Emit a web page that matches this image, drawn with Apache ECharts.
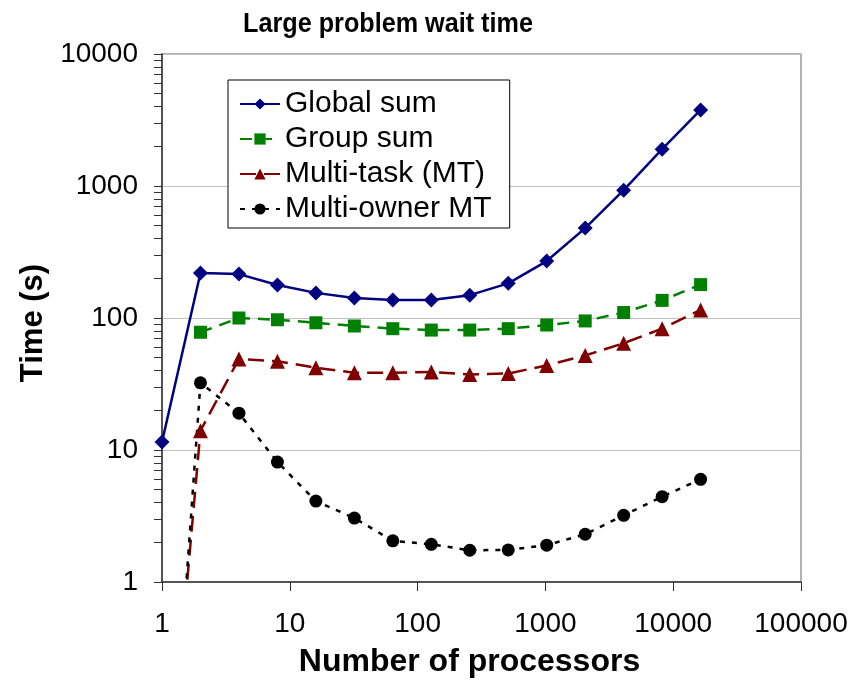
<!DOCTYPE html>
<html>
<head>
<meta charset="utf-8">
<script src="https://cdn.jsdelivr.net/npm/echarts@6/dist/echarts.min.js"></script>
<style>html,body{margin:0;padding:0;background:#fff}#c{width:856px;height:685px}</style>
</head>
<body>
<div id="c"></div>
<script>
const processors = [1, 2, 4, 8, 16, 32, 64, 128, 256, 512, 1024, 2048, 4096, 8192, 16384];
const globalSum = [11.5, 219, 215, 178, 155, 142, 137, 137, 149, 183, 270, 480, 930, 1900, 3770];
const groupSum = [null, 78, 100, 97, 92, 87, 83, 81, 81, 83, 88.5, 95, 110, 136, 179];
const multiTask = [0.007, 14, 49, 47, 42, 38.5, 38.5, 39, 37.4, 38, 43.7, 52, 64.5, 83, 115];
const multiOwner = [0.0025, 32.3, 19, 8.1, 4.1, 3.05, 2.05, 1.93, 1.74, 1.75, 1.9, 2.3, 3.2, 4.43, 6.0];
const seriesNames = ['Global sum', 'Group sum', 'Multi-task (MT)', 'Multi-owner MT'];
const xTicks = ['1', '10', '100', '1000', '10000', '100000'];
const yTicks = ['1', '10', '100', '1000', '10000'];
const chartTitle = 'Large problem wait time';

const pairs = arr => processors.map((p, i) => arr[i] == null ? null : [p, arr[i]]).filter(d => d);
// tick positions on log y axis: every integer multiple within each decade
const yTickValues = [];
yTicks.forEach((t, i) => {
  const base = Number(t);
  if (i < yTicks.length - 1) { for (let m = 1; m <= 9; m++) yTickValues.push(base * m); }
  else yTickValues.push(base);
});
const FONT = 'Liberation Sans, Arial, sans-serif';

const chart = echarts.init(document.getElementById('c'));
chart.setOption({
  animation: false,
  backgroundColor: '#fff',
  graphic: [{
    type: 'text', x: 388, y: 10, scaleX: 0.9,
    style: { text: chartTitle, font: 'bold 28px Liberation Sans, Arial', fill: '#000', textAlign: 'center', textVerticalAlign: 'top' }
  }],
  legend: {
    orient: 'vertical',
    left: 228, top: 80,
    itemWidth: 40, itemHeight: 14, itemGap: 5,
    padding: [9, 18, 4, 11],
    backgroundColor: '#fff', borderColor: '#000', borderWidth: 1,
    textStyle: { fontFamily: FONT, fontSize: 30, color: '#000' },
    data: seriesNames
  },
  grid: { left: 162, right: 55, top: 54, bottom: 103, show: true, borderColor: '#999', borderWidth: 1.5, backgroundColor: 'transparent' },
  xAxis: {
    type: 'log', logBase: 10, min: 1, max: 100000,
    name: 'Number of processors', nameLocation: 'middle', nameGap: 64,
    nameTextStyle: { fontFamily: FONT, fontWeight: 'bold', fontSize: 32, color: '#000', padding: [0, 24, 0, 0] },
    axisLine: { lineStyle: { color: '#333', width: 1.5 } },
    axisTick: { show: true, inside: false, length: 9, lineStyle: { color: '#333' } },
    axisLabel: { fontFamily: FONT, fontSize: 28, color: '#000', margin: 28,
      formatter: v => { const s = String(Math.round(v)); return xTicks.includes(s) ? s : ''; } },
    splitLine: { show: false }
  },
  yAxis: [{
    type: 'log', logBase: 10, min: 1, max: 10000,
    name: 'Time (s)', nameLocation: 'middle', nameGap: 108, nameRotate: 90,
    nameTextStyle: { fontFamily: FONT, fontWeight: 'bold', fontSize: 31, color: '#000', padding: [0, 10, 0, 0] },
    axisLine: { show: true, lineStyle: { color: '#333', width: 1.5 } },
    axisTick: { show: true, inside: false, length: 8, lineStyle: { color: '#333' } },
    axisLabel: { fontFamily: FONT, fontSize: 28, color: '#000', margin: 24,
      formatter: v => { const s = String(Math.round(v)); return yTicks.includes(s) ? s : ''; } },
    splitLine: { show: true, lineStyle: { color: '#c0c0c0', width: 1 } }
  }, {
    type: 'log', logBase: 10, min: 1, max: 10000, position: 'left', offset: 0,
    axisLine: { show: false },
    axisTick: { show: true, inside: false, length: 8, customValues: yTickValues, lineStyle: { color: '#333' } },
    axisLabel: { show: false },
    splitLine: { show: false }
  }],
  series: [
    { name: seriesNames[0], type: 'line', data: pairs(globalSum), symbol: 'diamond', symbolSize: 15,
      lineStyle: { color: '#000080', width: 2.5 }, itemStyle: { color: '#000080' } },
    { name: seriesNames[1], type: 'line', data: pairs(groupSum), symbol: 'rect', symbolSize: 13,
      lineStyle: { color: '#008000', width: 2.5, type: [12, 8] }, itemStyle: { color: '#008000' } },
    { name: seriesNames[2], type: 'line', data: pairs(multiTask), symbol: 'triangle', symbolSize: 15,
      lineStyle: { color: '#800000', width: 2.5, type: [16, 8] }, itemStyle: { color: '#800000' } },
    { name: seriesNames[3], type: 'line', data: pairs(multiOwner), symbol: 'circle', symbolSize: 13,
      lineStyle: { color: '#000', width: 2.5, type: [5, 7] }, itemStyle: { color: '#000' } }
  ]
});
</script>
</body>
</html>
